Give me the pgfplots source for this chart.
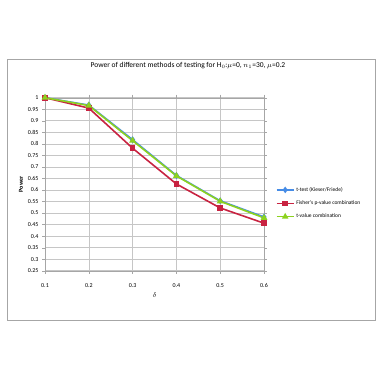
\documentclass[border=0pt]{standalone}
\usepackage{pgfplots}
\pgfplotsset{compat=1.18}
\usepackage{fontspec}
\setmainfont{Carlito}

\definecolor{xblue}{RGB}{70,140,230}
\definecolor{xred}{RGB}{200,35,65}
\definecolor{xgreen}{RGB}{140,210,30}

\begin{document}
\begin{tikzpicture}[x=1pt,y=1pt]
\path[use as bounding box] (0,0) rectangle (382,381);
\draw[gray!70, line width=0.8pt] (7,61) rectangle (375,322);
\node[font=\fontsize{7.5}{9}\selectfont] at (188,315) {Power of different methods of testing for H$_0$:$\mu$=0, $n_1$=30, $\mu$=0.2};
\begin{axis}[
    at={(45pt,110.3pt)}, anchor=south west,
    scale only axis,
    width=219pt, height=173pt,
    xmin=0.1, xmax=0.6, ymin=0.25, ymax=1,
    xtick={0.1,0.2,0.3,0.4,0.5,0.6},
    ytick={0.25,0.3,0.35,0.4,0.45,0.5,0.55,0.6,0.65,0.7,0.75,0.8,0.85,0.9,0.95,1},
    xticklabels={0.1,0.2,0.3,0.4,0.5,0.6},
    yticklabels={0.25,0.3,0.35,0.4,0.45,0.5,0.55,0.6,0.65,0.7,0.75,0.8,0.85,0.9,0.95,1},
    tick label style={font=\fontsize{6}{7}\selectfont},
    xticklabel style={yshift=-6pt},
    grid=major,
    grid style={gray!45, line width=0.6pt},
    axis line style={gray!70},
    tick style={gray!70},
    tick align=outside,
    major tick length=3pt,
    xlabel={$\delta$},
    xlabel style={font=\fontsize{7}{8}\selectfont, yshift=2pt},
    ylabel={\textbf{Power}},
    ylabel style={font=\fontsize{6}{7}\selectfont, yshift=-2pt},
    legend style={at={(1.04,0.39)}, anchor=west, draw=none, fill=none,
        font=\fontsize{5.5}{7}\selectfont, row sep=4pt},
    legend cell align=left,
    legend image post style={line width=1.4pt},
    clip=false,
]
\addplot[xblue, line width=1.6pt, mark=diamond*, mark size=2.2pt] coordinates {
  (0.1,1.0) (0.2,0.968) (0.3,0.818) (0.4,0.663) (0.5,0.553) (0.6,0.483)
};
\addlegendentry{t-test (Kieser/Friede)}
\addplot[xred, line width=1.6pt, mark=square*, mark size=2pt] coordinates {
  (0.1,1.0) (0.2,0.955) (0.3,0.781) (0.4,0.626) (0.5,0.522) (0.6,0.456)
};
\addlegendentry{Fisher's p-value combination}
\addplot[xgreen, line width=1.6pt, mark=triangle*, mark size=2.4pt] coordinates {
  (0.1,1.0) (0.2,0.966) (0.3,0.814) (0.4,0.661) (0.5,0.551) (0.6,0.479)
};
\addlegendentry{t-value combination}
\end{axis}
\end{tikzpicture}
\end{document}
